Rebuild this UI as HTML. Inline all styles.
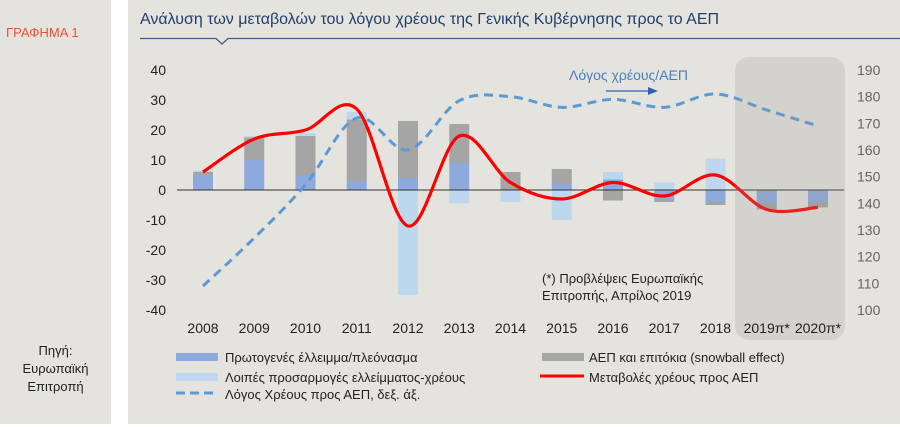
<!DOCTYPE html>
<html><head><meta charset="utf-8">
<style>
html,body{margin:0;padding:0;background:#fff;}
body{width:900px;height:427px;position:relative;overflow:hidden;font-family:"Liberation Sans",sans-serif;}
#left{position:absolute;left:0;top:0;width:111px;height:424px;background:#e5e3de;}
#main{position:absolute;left:128px;top:0;width:772px;height:424px;background:#e5e3de;}
</style></head>
<body>
<div id="left">
  <div style="position:absolute;left:6px;top:25px;color:#e8533a;font-size:13px;">ΓΡΑΦΗΜΑ 1</div>
  <div style="position:absolute;left:0;width:111px;top:342px;text-align:center;font-size:13px;line-height:18px;color:#222;">Πηγή:<br>Ευρωπαϊκή<br>Επιτροπή</div>
</div>
<div id="main"></div>
<svg id="chart" width="900" height="427" style="position:absolute;left:0;top:0">
  <text x="140" y="24" font-size="16" fill="#1f3f6e" font-family="Liberation Sans, sans-serif">Ανάλυση των μεταβολών του λόγου χρέους της Γενικής Κυβέρνησης προς το ΑΕΠ</text>
  <path d="M140 38.5 H216 L222 44 L228 38.5 H900" fill="none" stroke="#3f5f8a" stroke-width="1.3"/>
  <g id="bars"></g>
  <line x1="177" y1="190" x2="844" y2="190" stroke="#333" stroke-width="1"/>
  <g id="lines"></g>
  <rect x="735" y="57" width="110" height="283" rx="14" fill="rgba(150,148,142,0.22)"/>
  <g id="axes" font-family="Liberation Sans, sans-serif" font-size="14" fill="#222"></g>
  <text x="569" y="80" font-size="14" fill="#4a7ec0" font-family="Liberation Sans, sans-serif">Λόγος χρέους/ΑΕΠ</text>
  <line x1="606" y1="91" x2="648" y2="91" stroke="#2f5fb0" stroke-width="1.3"/>
  <polygon points="648,87 658,91 648,95" fill="#2f5fb0"/>
  <text x="542" y="283" font-size="13" fill="#222" font-family="Liberation Sans, sans-serif"><tspan x="542">(*) Προβλέψεις Ευρωπαϊκής</tspan><tspan x="542" dy="17">Επιτροπής, Απρίλος 2019</tspan></text>
  <g font-family="Liberation Sans, sans-serif" font-size="13" fill="#222">
    <g><rect x="176" y="353" width="42" height="8" fill="#8eaadc"/><text x="225" y="362">Πρωτογενές έλλειμμα/πλεόνασμα</text></g>
    <g><rect x="542" y="353" width="42" height="8" fill="#a5a5a5"/><text x="589" y="362">ΑΕΠ και επιτόκια (snowball effect)</text></g>
    <g><rect x="176" y="373" width="42" height="8" fill="#bdd7ee"/><text x="225" y="382">Λοιπές προσαρμογές ελλείμματος-χρέους</text></g>
    <g><line x1="540" y1="376" x2="584" y2="376" stroke="#ff0000" stroke-width="3"/><text x="589" y="382">Μεταβολές χρέους προς ΑΕΠ</text></g>
    <g><line x1="176" y1="393" x2="214" y2="393" stroke="#5b9bd5" stroke-width="3" stroke-dasharray="9,5"/><text x="225" y="399">Λόγος Χρέους προς ΑΕΠ, δεξ. άξ.</text></g>
  </g>
</svg>
<script>
const categories=["2008","2009","2010","2011","2012","2013","2014","2015","2016","2017","2018","2019π*","2020π*"];
const primary=[5,10,5,3,4,9,0,2,3.5,-3,-4,-4.5,-4];
const snowball=[1,7.5,13,20.5,19,13,6,5,-3.5,-1,-1,-2,-1.8];
const other=[0.5,0.5,1,2.5,-35,-4.5,-4,-10,2.5,2.5,10.5,0,0];
const debtChange=[6,17,20,27,-12,18,2.5,-3,2.5,-2,5,-6.5,-5.8];
const debtRatio=[109,127,147,172,160,178.5,180,176,179,176,181,175,169];
const leftTicks=[40,30,20,10,0,-10,-20,-30,-40];
const rightTicks=[190,180,170,160,150,140,130,120,110,100];
const NS="http://www.w3.org/2000/svg";
const x=i=>203+i*51.25;
const yL=v=>190-v*3;
const yR=v=>70+(190-v)*(240/90);
function mk(tag,attrs,parent){const e=document.createElementNS(NS,tag);for(const k in attrs)e.setAttribute(k,attrs[k]);parent.appendChild(e);return e;}
const bars=document.getElementById('bars');
const series=[[primary,'#8eaadc','primary'],[snowball,'#a5a5a5','snowball'],[other,'#bdd7ee','other']];
categories.forEach((c,i)=>{
  let pos=0,neg=0;
  series.forEach(([arr,col,nm])=>{
    const v=arr[i];if(!v)return;
    let a,b;
    if(v>0){a=pos;b=pos+v;pos=b;}else{a=neg;b=neg+v;neg=b;}
    const r=mk('rect',{x:x(i)-10,width:20,y:Math.min(yL(a),yL(b)),height:Math.abs(yL(a)-yL(b)),fill:col},bars);
    
    
  });
});
function smooth(pts){
  let d='M'+pts[0][0]+' '+pts[0][1];
  for(let i=0;i<pts.length-1;i++){
    const p0=pts[i-1]||pts[i],p1=pts[i],p2=pts[i+1],p3=pts[i+2]||p2;
    const t=0.5/3;
    d+=' C'+(p1[0]+(p2[0]-p0[0])*t)+' '+(p1[1]+(p2[1]-p0[1])*t)+' '+(p2[0]-(p3[0]-p1[0])*t)+' '+(p2[1]-(p3[1]-p1[1])*t)+' '+p2[0]+' '+p2[1];
  }
  return d;
}
const lines=document.getElementById('lines');
const dl=mk('path',{d:smooth(debtRatio.map((v,i)=>[x(i),yR(v)])),fill:'none',stroke:'#5b9bd5','stroke-width':3,'stroke-dasharray':'9,6'},lines);


const rl=mk('path',{d:smooth(debtChange.map((v,i)=>[x(i),yL(v)])),fill:'none',stroke:'#ff0000','stroke-width':3.2},lines);


const axes=document.getElementById('axes');
leftTicks.forEach(v=>{
  const t=mk('text',{x:166,y:yL(v)+5,'text-anchor':'end'},axes);t.textContent=v;
  
  
});
rightTicks.forEach(v=>{
  const t=mk('text',{x:857,y:yR(v)+5,fill:'#666'},axes);t.textContent=v;
  
  
});
categories.forEach((c,i)=>{
  const t=mk('text',{x:x(i),y:333,'text-anchor':'middle'},axes);t.textContent=c;
  
  
});
</script>
</body></html>
